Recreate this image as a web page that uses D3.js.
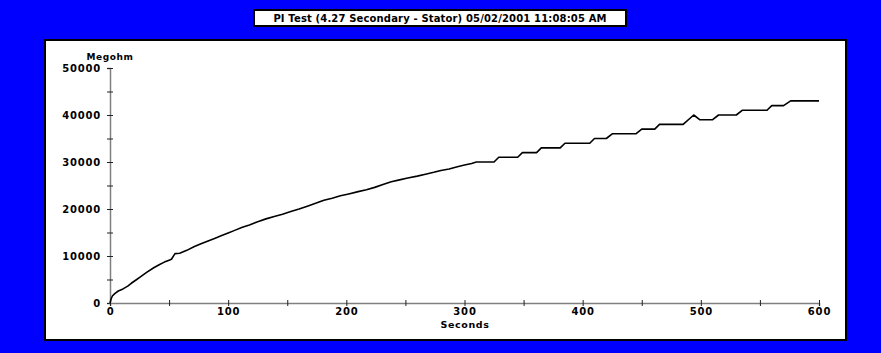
<!DOCTYPE html>
<html>
<head>
<meta charset="utf-8">
<script src="https://cdn.jsdelivr.net/npm/d3@7"></script>
<style>
  html, body { margin: 0; padding: 0; background: #0000ff; }
  svg { display: block; }
  text { font-family: "DejaVu Sans", sans-serif; font-weight: bold; fill: #000; }
</style>
</head>
<body>
<div class="chart-section"></div>
<script>
const title = "PI Test (4.27 Secondary - Stator) 05/02/2001 11:08:05 AM";
const yLabel = "Megohm";
const xLabel = "Seconds";

// readings: time (s) and resistance (megohm)
const seconds = [
  0, 1, 2, 4, 7, 11, 15, 18, 22, 26, 31, 37, 42, 46, 50, 52, 55, 59, 65, 71,
  77, 83, 89, 94, 100, 105, 112, 118, 125, 132, 139, 146, 153, 160, 167, 174,
  181, 188, 195, 202, 210, 217, 224, 231, 238, 245, 252, 260, 267, 274, 280,
  287, 294, 300, 306, 310, 325, 329, 345, 349, 361, 365, 381, 385, 406, 410,
  420, 425, 445, 450, 461, 465, 485, 494, 499, 510, 515, 530, 535, 556, 560,
  570, 576, 600,
];
const megohm = [
  0, 900, 1500, 2000, 2550, 3000, 3600, 4200, 4900, 5600, 6500, 7500, 8200,
  8700, 9100, 9300, 10500, 10600, 11200, 11950, 12600, 13200, 13800, 14300,
  14900, 15400, 16100, 16600, 17300, 17900, 18400, 18900, 19450, 20000, 20600,
  21200, 21850, 22300, 22800, 23200, 23700, 24100, 24600, 25200, 25800, 26200,
  26600, 27000, 27400, 27800, 28200, 28500, 29000, 29350, 29700, 30000, 30000,
  31000, 31000, 32000, 32000, 33000, 33000, 34000, 34000, 35000, 35000, 36000,
  36000, 37000, 37000, 38000, 38000, 40000, 39000, 39000, 40000, 40000, 41000,
  41000, 42000, 42000, 43000, 43000,
];

const xTicks = [0, 50, 100, 150, 200, 250, 300, 350, 400, 450, 500, 550, 600];
const xTickLabels = ["0", "", "100", "", "200", "", "300", "", "400", "", "500", "", "600"];
const yTicks = [0, 5000, 10000, 15000, 20000, 25000, 30000, 35000, 40000, 45000, 50000];
const yTickLabels = ["0", "", "10000", "", "20000", "", "30000", "", "40000", "", "50000"];

const width = 881;
const height = 353;

const svg = d3
  .select(".chart-section")
  .append("svg")
  .attr("width", width)
  .attr("height", height)
  .attr("viewBox", [0, 0, width, height]);

svg.append("rect").attr("width", width).attr("height", height).attr("fill", "#0000ff");

// title box
svg
  .append("rect")
  .attr("x", 254)
  .attr("y", 10)
  .attr("width", 372)
  .attr("height", 16)
  .attr("fill", "#fff")
  .attr("stroke", "#000")
  .attr("stroke-width", 2);

svg
  .append("text")
  .attr("x", 440)
  .attr("y", 22)
  .attr("text-anchor", "middle")
  .attr("font-size", 10)
  .attr("letter-spacing", 0.15)
  .text(title);

// white plot panel
svg
  .append("rect")
  .attr("x", 45)
  .attr("y", 40)
  .attr("width", 801)
  .attr("height", 300)
  .attr("fill", "#fff")
  .attr("stroke", "#000")
  .attr("stroke-width", 2);

const x = d3.scaleLinear([0, 600], [110, 819]);
const y = d3.scaleLinear([0, 50000], [303, 68]);

const yAxis = svg
  .append("g")
  .attr("transform", `translate(${x(0)},0)`)
  .call(
    d3
      .axisLeft(y)
      .tickValues(yTicks)
      .tickSize(3)
      .tickPadding(6)
      .tickFormat((d, i) => yTickLabels[i])
  );

const xAxis = svg
  .append("g")
  .attr("transform", `translate(0,${y(0)})`)
  .call(
    d3
      .axisBottom(x)
      .tickValues(xTicks)
      .tickSize(3)
      .tickPadding(2)
      .tickFormat((d, i) => xTickLabels[i])
  );

yAxis.selectAll(".tick").append("line").attr("x2", 3).attr("stroke", "currentColor");
xAxis.selectAll(".tick").append("line").attr("y2", -3).attr("stroke", "currentColor");

[yAxis, xAxis].forEach((g) => {
  g.select(".domain").attr("stroke", "#808080").attr("stroke-width", 1.5);
  g.selectAll(".tick line").attr("stroke", "#222");
  g.selectAll(".tick text")
    .attr("font-family", "DejaVu Sans")
    .attr("font-weight", "bold")
    .attr("font-size", 10)
    .attr("letter-spacing", 0.8)
    .attr("fill", "#000");
});

svg
  .append("text")
  .attr("x", x(0))
  .attr("y", 60)
  .attr("text-anchor", "middle")
  .attr("font-size", 9)
  .attr("letter-spacing", 0.6)
  .text(yLabel);

svg
  .append("text")
  .attr("x", 465)
  .attr("y", 328)
  .attr("text-anchor", "middle")
  .attr("font-size", 9.5)
  .attr("letter-spacing", 0.6)
  .text(xLabel);

const line = d3
  .line()
  .x((d, i) => x(seconds[i]))
  .y((d) => y(d));

svg
  .append("path")
  .datum(megohm)
  .attr("fill", "none")
  .attr("stroke", "#000")
  .attr("stroke-width", 1.6)
  .attr("stroke-linejoin", "round")
  .attr("d", line);
</script>
</body>
</html>
